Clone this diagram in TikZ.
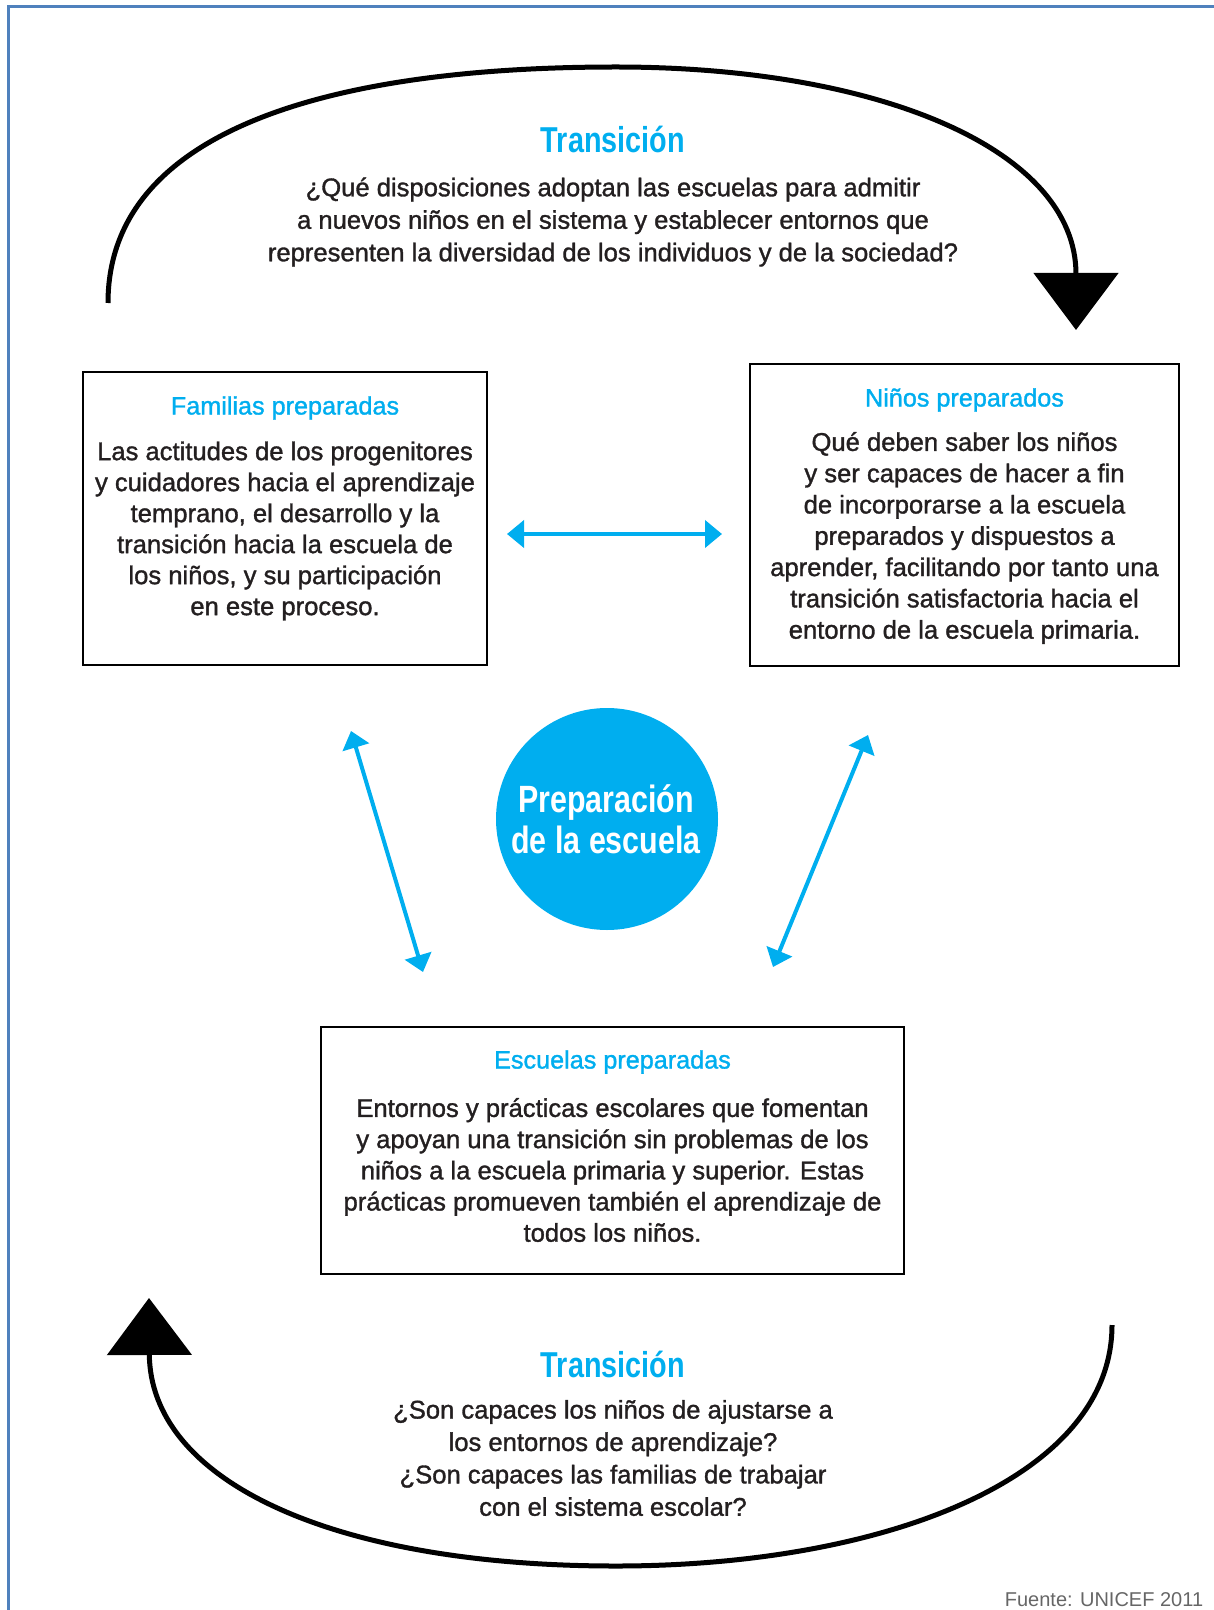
\documentclass[tikz,border=0pt]{standalone}
\usepackage{fontspec}
\setmainfont{Liberation Sans}
\newfontfamily\medfont[FakeBold=1.3]{Liberation Sans}
\newfontfamily\condfont[FakeStretch=0.8]{Liberation Sans}
\usetikzlibrary{arrows.meta}
\definecolor{cyanb}{RGB}{0,174,239}
\definecolor{txt}{RGB}{35,31,32}
\definecolor{frameblue}{RGB}{79,129,189}
\begin{document}
\begin{tikzpicture}[x=0.5pt,y=-0.5pt,
  bodytext/.style={text=txt,align=center,inner sep=0pt},
  boxtitle/.style={text=cyanb,inner sep=0pt,font=\medfont\fontsize{12.6}{15}\selectfont},
  bigtitle/.style={text=cyanb,inner sep=0pt,font=\condfont\bfseries\fontsize{18}{20}\selectfont},
  infobox/.style={draw=black,line width=1pt,inner sep=0pt},
  cycle/.style={line width=2.5pt,draw=black,-{Triangle[length=28.5pt,width=42pt]}},
  link/.style={line width=2pt,draw=cyanb,{Triangle[length=8.5pt,width=13.5pt]}-{Triangle[length=8.5pt,width=13.5pt]}}
]
\useasboundingbox (0,0) rectangle (1214,1610);
\clip (0,0) rectangle (1214,1610);
% frame
\draw[frameblue,line width=1.5pt] (8,1630) -- (8,7) -- (1230,7);

% top transition
\node[bigtitle] (t1) at (613,139) {Transición};
\node[bodytext,font=\medfont\fontsize{12.8}{16.25}\selectfont] (q1) at (613,222)
 {¿Qué disposiciones adoptan las escuelas para admitir\\
  a nuevos niños en el sistema y establecer entornos que\\
  representen la diversidad de los individuos y de la sociedad?};
\coordinate (a1s) at (108,303);
\coordinate (a1m) at (616,67);
\coordinate (a1e) at (1076,330);
\draw[cycle] (a1s) .. controls (108,130) and (330,67) .. (a1m)
  .. controls (880,67) and (1076,150) .. (a1e);

% boxes
\node[infobox,minimum width=202pt,minimum height=146.5pt] (fam) at (285,518.5) {};
\node[boxtitle] (famt) at (285,408) {Familias preparadas};
\node[bodytext,font=\medfont\fontsize{12.8}{15.5}\selectfont] (famb) at (285,531)
 {Las actitudes de los progenitores\\
  y cuidadores hacia el aprendizaje\\
  temprano, el desarrollo y la\\
  transición hacia la escuela de\\
  los niños, y su participación\\
  en este proceso.};

\node[infobox,minimum width=214.5pt,minimum height=151pt] (nin) at (964.5,515) {};
\node[boxtitle] (nint) at (964.5,400) {Niños preparados};
\node[bodytext,font=\medfont\fontsize{12.8}{15.65}\selectfont] (ninb) at (964.5,538)
 {Qué deben saber los niños\\
  y ser capaces de hacer a fin\\
  de incorporarse a la escuela\\
  preparados y dispuestos a\\
  aprender, facilitando por tanto una\\
  transición satisfactoria hacia el\\
  entorno de la escuela primaria.};

\node[infobox,minimum width=291.5pt,minimum height=123.5pt] (esc) at (612.5,1150.5) {};
\node[boxtitle] (esct) at (612.5,1062) {Escuelas preparadas};
\node[bodytext,font=\medfont\fontsize{12.8}{15.6}\selectfont] (escb) at (612.5,1170)
 {Entornos y prácticas escolares que fomentan\\
  y apoyan una transición sin problemas de los\\
  niños a la escuela primaria y superior. Estas\\
  prácticas promueven también el aprendizaje de\\
  todos los niños.};

% centre
\node[circle,fill=cyanb,minimum size=111pt,inner sep=0pt] (prep) at (607,819) {};
\node[text=white,align=center,inner sep=0pt,font=\condfont\bfseries\fontsize{19}{20.5}\selectfont] (prept) at (606,819)
 {Preparación\\de la escuela};

% links
\coordinate (h1) at (507,534);
\coordinate (h2) at (722,534);
\draw[link] (h1) -- (h2);
\coordinate (l1) at (351,731);
\coordinate (l2) at (423,972);
\draw[link] (l1) -- (l2);
\coordinate (r1) at (868,735);
\coordinate (r2) at (773,967);
\draw[link] (r1) -- (r2);

% bottom transition
\node[bigtitle] (t2) at (613,1364) {Transición};
\node[bodytext,font=\medfont\fontsize{12.8}{16.2}\selectfont] (q2) at (613,1458)
 {¿Son capaces los niños de ajustarse a\\
  los entornos de aprendizaje?\\
  ¿Son capaces las familias de trabajar\\
  con el sistema escolar?};
\coordinate (a2s) at (1112,1325);
\coordinate (a2m) at (616,1566);
\coordinate (a2e) at (149,1298);
\draw[cycle] (a2s) .. controls (1112,1480) and (880,1566) .. (a2m)
  .. controls (330,1566) and (150,1480) .. (a2e);

% source
\node[anchor=base,text=black!60,inner sep=0pt,font=\fontsize{10}{12}\selectfont] (src) at (1104,1606) {Fuente: UNICEF 2011};
\end{tikzpicture}
\end{document}
